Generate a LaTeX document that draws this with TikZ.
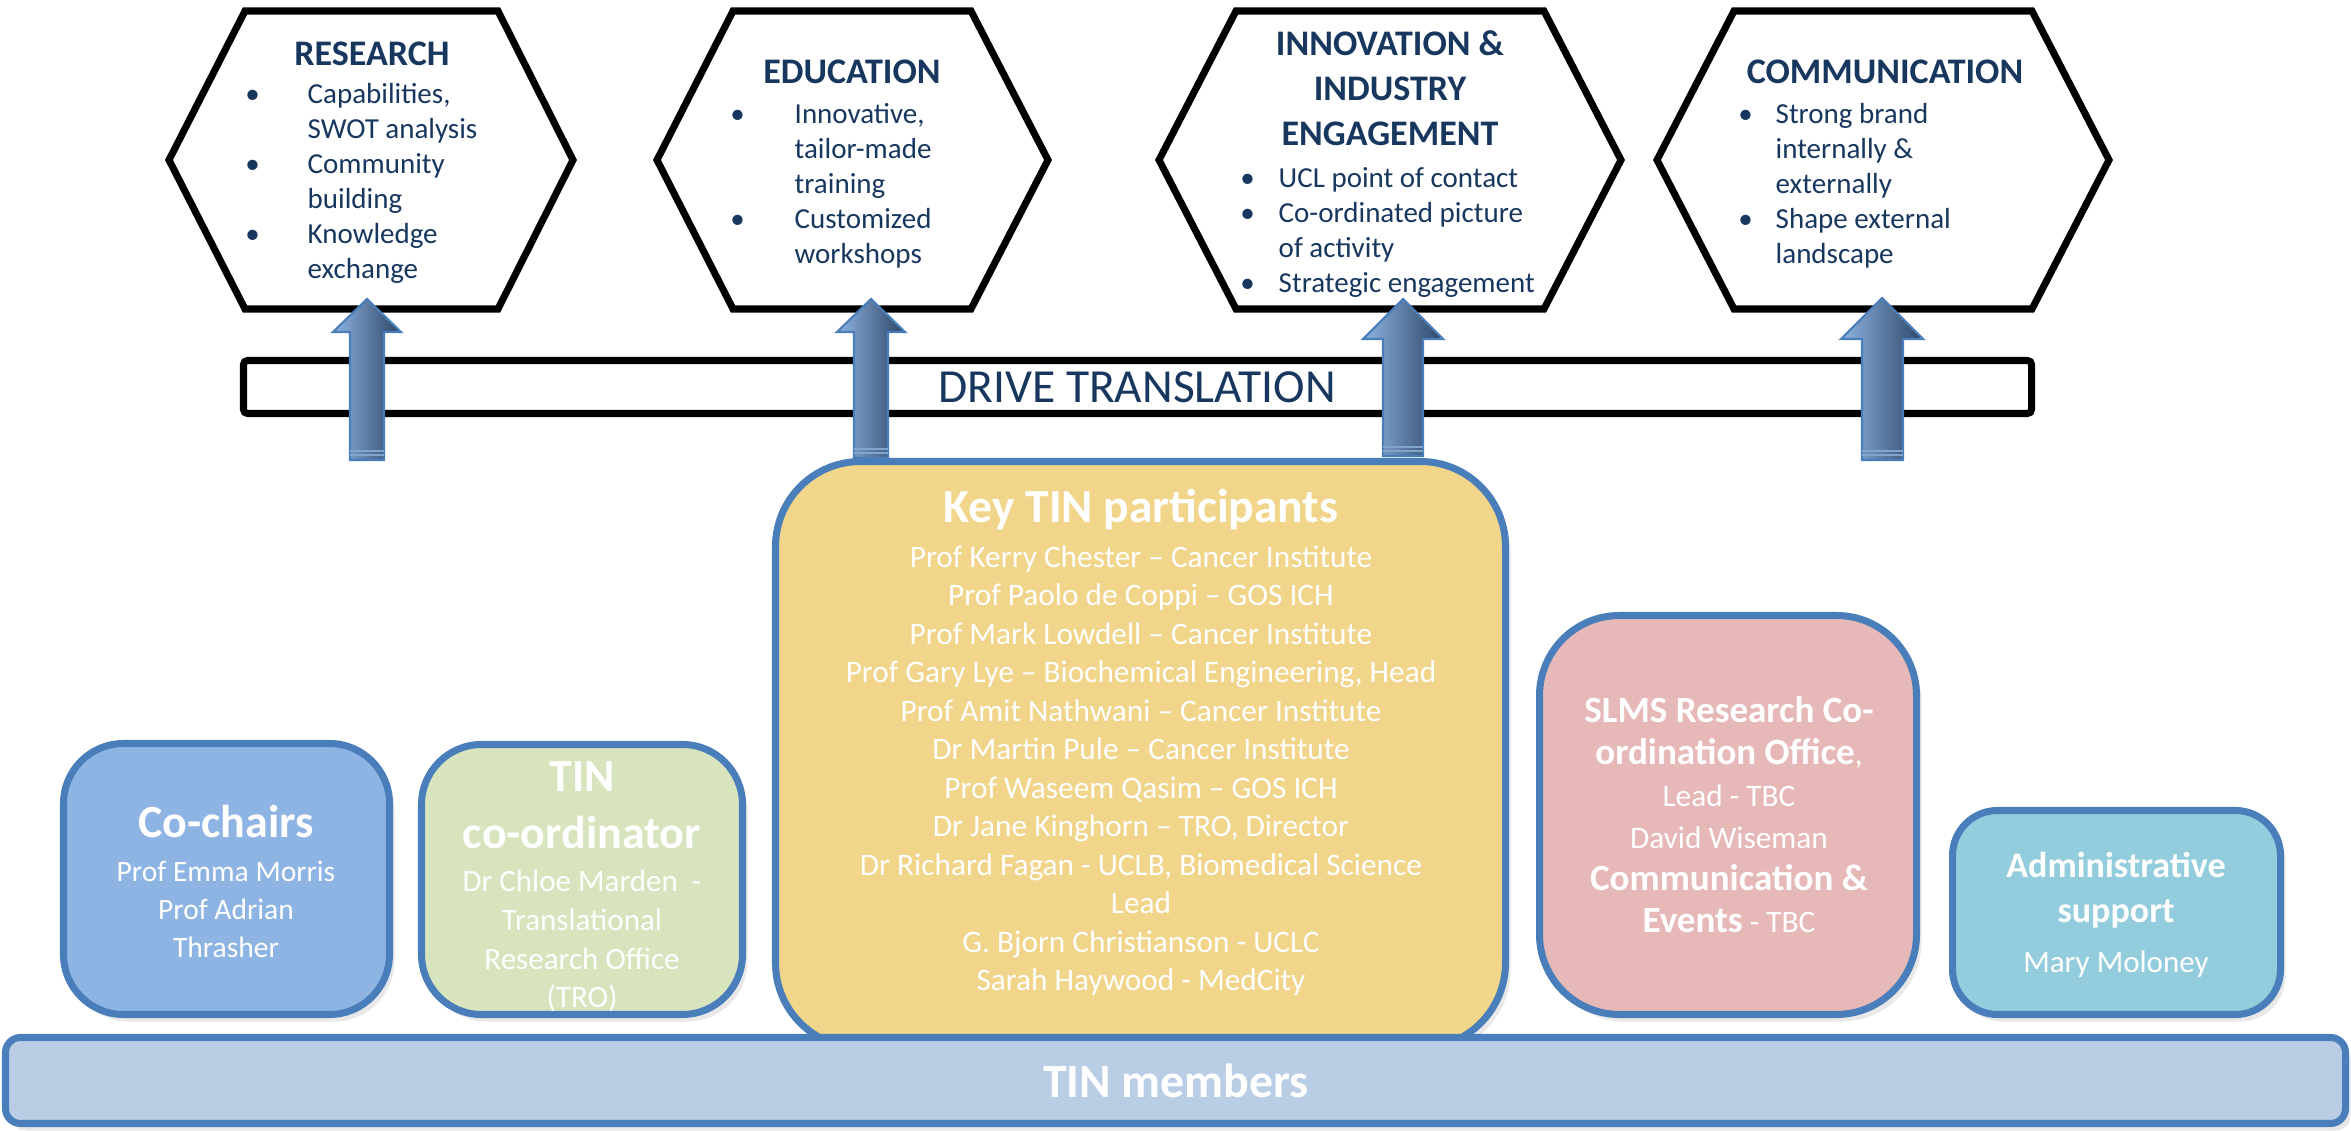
\documentclass[tikz,border=0pt]{standalone}
\usepackage{fontspec}
\setmainfont{Carlito}
\usetikzlibrary{shadows}
\definecolor{bordblue}{HTML}{4A7EBB}
\definecolor{cochair}{HTML}{8EB4E3}
\definecolor{coord}{HTML}{D7E4BD}
\definecolor{keytin}{HTML}{F0D58A}
\definecolor{slms}{HTML}{E6B9B8}
\definecolor{admin}{HTML}{93CDDD}
\definecolor{members}{HTML}{B9CDE5}
\definecolor{navy}{HTML}{17375E}
\definecolor{arrL}{HTML}{8DB4E2}
\definecolor{arrR}{HTML}{2E4466}
\newcommand\fl{\rule{0pt}{1em}}
\newcommand\bul[1]{\llap{\makebox[#1][c]{\textbullet}}}
\newcommand\bigbf{\bfseries\fontsize{10.53pt}{11.95pt}\selectfont}
\begin{document}
\begin{tikzpicture}[x=0.01cm,y=-0.01cm,
  hexagon/.style={draw=black, line width=2pt, fill=white, line join=miter},
  hhead/.style={inner sep=0pt, anchor=north, align=center, text=navy,
     font=\bfseries\fontsize{10.24pt}{12.8pt}\selectfont},
  hbody/.style={inner sep=0pt, anchor=north west, align=left, text=navy,
     font=\fontsize{8.25pt}{9.96pt}\selectfont},
  blockarrow/.style={left color=arrL, right color=arrR, draw=bordblue, line width=0.6pt},
  stripe/.style={draw=bordblue!70!white, line width=0.6pt},
  orgbox/.style={draw=bordblue, line width=2pt,
     drop shadow={opacity=0.18, shadow xshift=0.5mm, shadow yshift=-0.7mm}},
  boxhead/.style={inner sep=0pt, align=center, text=white,
     font=\bfseries\fontsize{13.09pt}{16.22pt}\selectfont},
  boxbody/.style={inner sep=0pt, anchor=north, align=center, text=white}
]
\useasboundingbox (0,0) rectangle (2351,1131);

% hexagons
\draw[hexagon] (169,160) -- (245,11) -- (498,11) -- (573,160) -- (498,309) -- (245,309) -- cycle;
\draw[hexagon] (657,160) -- (733,11) -- (971,11) -- (1048,160) -- (971,309) -- (733,309) -- cycle;
\draw[hexagon] (1159,160) -- (1236,11) -- (1544,11) -- (1621,160) -- (1544,309) -- (1236,309) -- cycle;
\draw[hexagon] (1657,160) -- (1734,11) -- (2032,11) -- (2109,160) -- (2032,309) -- (1734,309) -- cycle;

\node[hhead] (research) at (372,29) {\fl RESEARCH};
\node[hbody] (researchtxt) at (307,74) {\fl\bul{11mm}Capabilities,\\ SWOT analysis\\ \bul{11mm}Community\\ building\\ \bul{11mm}Knowledge\\ exchange};

\node[hhead] (education) at (852,47) {\fl EDUCATION};
\node[hbody] (educationtxt) at (794,94) {\fl\bul{11.4mm}Innovative,\\ tailor-made\\ training\\ \bul{11.4mm}Customized\\ workshops};

\node[hhead] (innovation) at (1390,19) {\fl INNOVATION \&\\ INDUSTRY\\ ENGAGEMENT};
\node[hbody] (innovationtxt) at (1278,158) {\fl\bul{6.2mm}UCL point of contact\\ \bul{6.2mm}Co-ordinated picture\\ of activity\\ \bul{6.2mm}Strategic engagement};

\node[hhead] (communication) at (1885,47) {\fl COMMUNICATION};
\node[hbody] (communicationtxt) at (1775,94) {\fl\bul{6mm}Strong brand\\ internally \&\\ externally\\ \bul{6mm}Shape external\\ landscape};

% drive translation bar
\draw[draw=black, line width=2pt, fill=white, rounded corners=0.4mm] (243.5,360.5) rectangle (2031.5,413.5);
\node[inner sep=0pt, anchor=base, text=navy, font=\fontsize{13.5pt}{15pt}\selectfont] (drive) at (1137,403) {DRIVE TRANSLATION};

% block arrows
\shade[blockarrow] (367,299) -- (401,332) -- (384,332) -- (384,460) -- (350,460) -- (350,332) -- (333,332) -- cycle;
\draw[stripe] (350,451) -- (384,451) (350,455) -- (384,455);
\shade[blockarrow] (871,299) -- (905,332) -- (888,332) -- (888,458) -- (854,458) -- (854,332) -- (837,332) -- cycle;
\draw[stripe] (854,449) -- (888,449) (854,453) -- (888,453);
\shade[blockarrow] (1403,299) -- (1443,339) -- (1423,339) -- (1423,456) -- (1383,456) -- (1383,339) -- (1363,339) -- cycle;
\draw[stripe] (1383,447) -- (1423,447) (1383,451) -- (1423,451);
\shade[blockarrow] (1882,298) -- (1923,339) -- (1903,339) -- (1903,460) -- (1862,460) -- (1862,339) -- (1841,339) -- cycle;
\draw[stripe] (1862,451) -- (1903,451) (1862,455) -- (1903,455);

% boxes
\draw[orgbox, fill=cochair, rounded corners=6mm] (63.5,743.5) rectangle (389.5,1014.5);
\node[boxhead, anchor=base] (cochairs) at (226,838) {Co-chairs};
\node[boxbody, font=\fontsize{8.4pt}{10.81pt}\selectfont] (cochairstxt) at (226,851) {\fl Prof Emma Morris\\ Prof Adrian\\ Thrasher};

\draw[orgbox, fill=coord, rounded corners=6mm] (421.5,744.5) rectangle (742.5,1014.5);
\node[boxhead, anchor=north] (coordinator) at (582,745) {\fl TIN\\ co-ordinator};
\node[boxbody, font=\fontsize{8.82pt}{11.01pt}\selectfont] (coordinatortxt) at (582,860) {\fl Dr Chloe Marden~~-\\ Translational\\ Research Office\\ (TRO)};

\draw[orgbox, fill=keytin, rounded corners=8.5mm] (775.5,461.5) rectangle (1505.5,1048);
\node[boxhead, anchor=base, font=\bfseries\fontsize{13.5pt}{16pt}\selectfont] (keytinhead) at (1141,523) {Key TIN participants};
\node[boxbody, font=\fontsize{8.9pt}{10.95pt}\selectfont] (keytintxt) at (1141,535) {\fl Prof Kerry Chester – Cancer Institute\\
Prof Paolo de Coppi – GOS ICH\\
Prof Mark Lowdell – Cancer Institute\\
Prof Gary Lye – Biochemical Engineering, Head\\
Prof Amit Nathwani – Cancer Institute\\
Dr Martin Pule – Cancer Institute\\
Prof Waseem Qasim – GOS ICH\\
Dr Jane Kinghorn – TRO, Director\\
Dr Richard Fagan - UCLB, Biomedical Science\\
Lead\\
G. Bjorn Christianson - UCLC\\
Sarah Haywood - MedCity};

\draw[orgbox, fill=slms, rounded corners=8mm] (1539.5,615.5) rectangle (1916.5,1014.5);
\node[boxbody, font=\fontsize{8.9pt}{11.95pt}\selectfont] (slmstxt) at (1729,685) {{\bigbf\fl SLMS Research Co-}\\
{\bigbf ordination Office},\\
Lead - TBC\\
David Wiseman\\
{\bigbf Communication \&}\\
{\bigbf Events} - TBC};

\draw[orgbox, fill=admin, rounded corners=4.5mm] (1952.5,810.5) rectangle (2280.5,1014.5);
\node[boxbody, font=\bfseries\fontsize{10.24pt}{12.8pt}\selectfont] (adminhead) at (2116,841) {\fl Administrative\\ support};
\node[inner sep=0pt, anchor=base, text=white, font=\fontsize{8.82pt}{11pt}\selectfont] (admintxt) at (2116,972) {Mary Moloney};

% TIN members bar
\draw[orgbox, fill=members, rounded corners=1.5mm] (5.5,1037.5) rectangle (2345.5,1123.5);
\node[boxhead, anchor=base, font=\bfseries\fontsize{13.6pt}{16pt}\selectfont] (members) at (1176,1097) {TIN members};
\end{tikzpicture}
\end{document}
